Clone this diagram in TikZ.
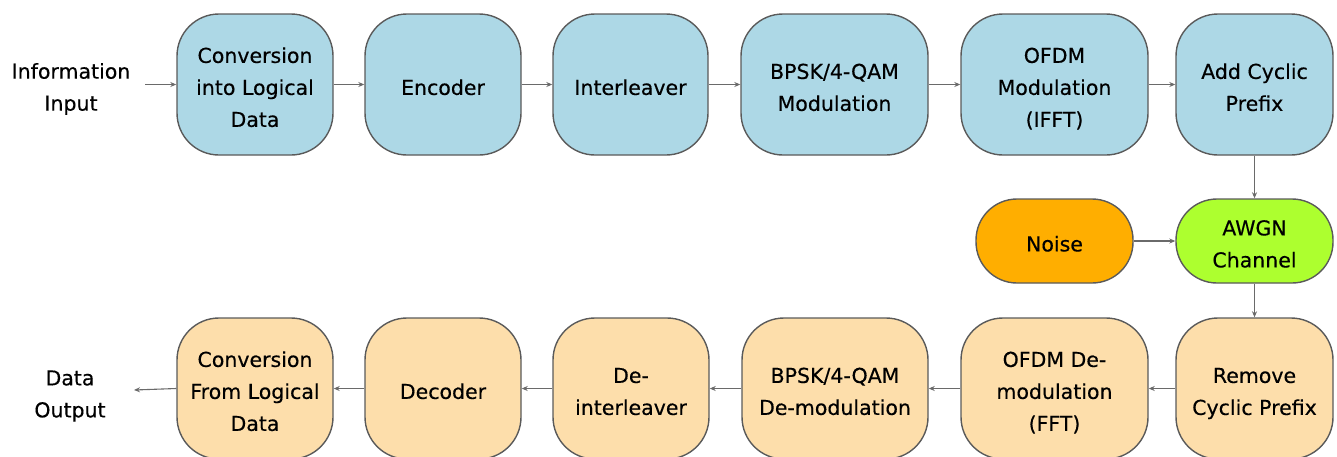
\documentclass[tikz,border=0pt]{standalone}
\usepackage{fontspec}
\setmainfont{DejaVu Sans}
\newfontfamily\dfont{DejaVu Sans}[FakeBold=0.35]
\usetikzlibrary{arrows.meta}
\definecolor{topblue}{HTML}{ADD8E6}
\definecolor{botwheat}{HTML}{FDDEAB}
\definecolor{noiseor}{HTML}{FFAE00}
\definecolor{awgngr}{HTML}{ADFF2F}
\definecolor{edgegray}{HTML}{5A5A5A}
\definecolor{arrgray}{HTML}{6A6A6A}
\newcommand\lowtxt[1]{\raisebox{-4pt}[\height][\depth]{\begin{tabular}{@{}c@{}}#1\end{tabular}}}
\begin{document}
\begin{tikzpicture}[x=1pt,y=-1pt,
  blk/.style={draw=edgegray, line width=1.4pt, rounded corners=42pt, minimum height=141pt,
    inner sep=0pt, font=\dfont\fontsize{20.5}{32}\selectfont, text=black},
  tx/.style={blk, fill=topblue},
  rx/.style={blk, fill=botwheat},
  mid/.style={blk, minimum height=84pt, rounded corners=41pt},
  lbl/.style={align=center, font=\dfont\fontsize{20.5}{32}\selectfont},
  conn/.style={draw=arrgray, line width=1.1pt, -{Stealth[length=6pt,width=5pt]}}]
\useasboundingbox (0,0) rectangle (1337,456);
% top row
\node[lbl] (in) at (71,89) {Information\\Input};
\node[tx, minimum width=156pt] (t1) at (255,84.5) {\lowtxt{Conversion\\into Logical\\Data}};
\node[tx, minimum width=156pt] (t2) at (443,84.5) {\lowtxt{Encoder}};
\node[tx, minimum width=155pt] (t3) at (630.5,84.5) {\lowtxt{Interleaver}};
\node[tx, minimum width=187pt] (t4) at (834.5,84.5) {\lowtxt{BPSK/4-QAM\\Modulation}};
\node[tx, minimum width=187pt] (t5) at (1054.5,84.5) {\lowtxt{OFDM\\Modulation\\(IFFT)}};
\node[tx, minimum width=157pt] (t6) at (1254.5,84.5) {\lowtxt{Add Cyclic\\Prefix}};
% middle row
\node[mid, fill=noiseor, minimum width=157pt] (noise) at (1054.5,241) {\lowtxt{Noise}};
\node[mid, fill=awgngr, minimum width=157pt] (awgn) at (1254.5,241) {\lowtxt{AWGN\\Channel}};
% bottom row
\node[rx, minimum width=157pt] (r6) at (1254.5,388.5) {\lowtxt{Remove\\Cyclic Prefix}};
\node[rx, minimum width=187pt] (r5) at (1054.5,388.5) {\lowtxt{OFDM De-\\modulation\\(FFT)}};
\node[rx, minimum width=186pt] (r4) at (835,388.5) {\lowtxt{BPSK/4-QAM\\De-modulation}};
\node[rx, minimum width=156pt] (r3) at (631,388.5) {\lowtxt{De-\\interleaver}};
\node[rx, minimum width=156pt] (r2) at (443,388.5) {\lowtxt{Decoder}};
\node[rx, minimum width=156pt] (r1) at (255,388.5) {\lowtxt{Conversion\\From Logical\\Data}};
\node[lbl] (out) at (70,396) {Data\\Output};
\coordinate (inend) at (145,84.5);
\coordinate (outend) at (134,390);
% connectors
\draw[conn] (inend) -- (t1.west);
\draw[conn] (t1) -- (t2);
\draw[conn] (t2) -- (t3);
\draw[conn] (t3) -- (t4);
\draw[conn] (t4) -- (t5);
\draw[conn] (t5) -- (t6);
\draw[conn] (t6) -- (awgn);
\draw[conn] (noise) -- (awgn);
\draw[conn] (awgn) -- (r6);
\draw[conn] (r6) -- (r5);
\draw[conn] (r5) -- (r4);
\draw[conn] (r4) -- (r3);
\draw[conn] (r3) -- (r2);
\draw[conn] (r2) -- (r1);
\draw[conn] (r1.west) -- (outend);
\end{tikzpicture}
\end{document}
